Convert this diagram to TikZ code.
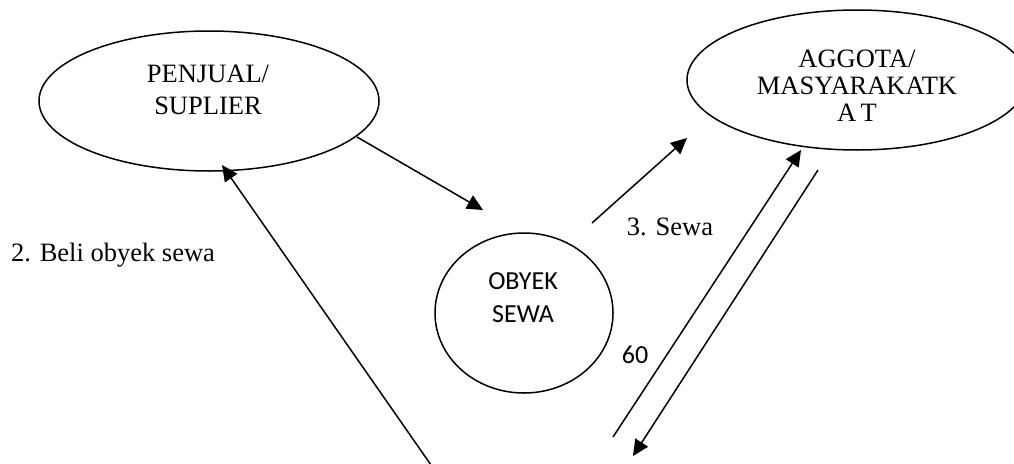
\documentclass[tikz,border=0pt]{standalone}
\usepackage{fontspec}
\setmainfont{Liberation Serif}
\newfontfamily\calibrifont{Carlito}
\usetikzlibrary{shapes.geometric,arrows.meta}
\tikzset{
  shapeline/.style={draw=black, line width=1.5pt, inner sep=0pt},
  oval/.style={shapeline, ellipse},
  lbl/.style={align=center, inner sep=0pt, font=\fontsize{26.5}{32}\selectfont},
  sanslbl/.style={align=center, inner sep=0pt, font=\calibrifont\fontsize{26}{33}\selectfont},
  conn/.style={line width=1.5pt, -{Triangle[length=16pt,width=15pt]}}
}
\begin{document}
\begin{tikzpicture}[x=1pt,y=-1pt]
\useasboundingbox (0,0) rectangle (1014,463);
\clip (0,0) rectangle (1014,463);
% shapes
\node[oval, minimum width=340pt, minimum height=140pt] (pen) at (209,101) {};
\node[oval, minimum width=340pt, minimum height=140pt] (ang) at (857,80) {};
\node[oval, minimum width=178pt, minimum height=160pt] (obj) at (524,313) {};
% texts
\node[lbl] (pentext) at (208,90) {PENJUAL/\\SUPLIER};
\node[lbl, font=\fontsize{26.5}{27}\selectfont] (angtext) at (857,86) {AGGOTA/\\MASYARAKATK\\A\,T};
\node[sanslbl] (objtext) at (523,298) {OBYEK\\SEWA};
\node[sanslbl] (sixty) at (635,355) {60};
\node[lbl] (sewa) at (670,227) {3. Sewa};
\node[lbl] (beli) at (113,255) {2. Beli obyek sewa};
% connector end points
\coordinate (a1s) at (357,137);
\coordinate (a1e) at (483,210);
\coordinate (a2s) at (592,223);
\coordinate (a2e) at (687,138);
\coordinate (a3s) at (613,437);
\coordinate (a3e) at (801,150);
\coordinate (a4s) at (818,170);
\coordinate (a4e) at (633,456);
\coordinate (a5s) at (431,465);
\coordinate (a5e) at (222,165);
% connectors
\draw[conn] (a1s) -- (a1e);
\draw[conn] (a2s) -- (a2e);
\draw[conn] (a3s) -- (a3e);
\draw[conn] (a4s) -- (a4e);
\draw[conn] (a5s) -- (a5e);
\end{tikzpicture}
\end{document}
